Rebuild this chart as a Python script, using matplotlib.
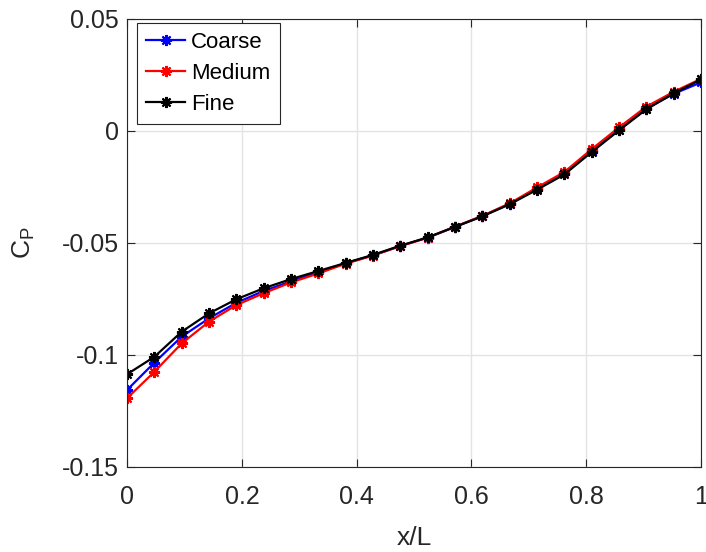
import matplotlib
matplotlib.use('Agg')
import matplotlib.pyplot as plt

plt.rcParams['font.family'] = ['Liberation Sans', 'DejaVu Sans']
plt.rcParams['mathtext.default'] = 'regular'

x_over_L = [0.0, 0.0476, 0.0952, 0.1429, 0.1905, 0.2381, 0.2857, 0.3333, 0.3810, 0.4286, 0.4762,
            0.5238, 0.5714, 0.6190, 0.6667, 0.7143, 0.7619, 0.8095, 0.8571, 0.9048, 0.9524, 1.0]

cp_coarse = [-0.1156, -0.1034, -0.0918, -0.0836, -0.0767, -0.0714, -0.0671, -0.0631, -0.0590, -0.0555, -0.0513,
             -0.0476, -0.0428, -0.0380, -0.0325, -0.0258, -0.0189, -0.0088, 0.0005, 0.0100, 0.0166, 0.0217]
cp_medium = [-0.1193, -0.1075, -0.0948, -0.0851, -0.0777, -0.0724, -0.0676, -0.0636, -0.0592, -0.0556, -0.0514,
             -0.0476, -0.0427, -0.0379, -0.0323, -0.0252, -0.0183, -0.0081, 0.0016, 0.0109, 0.0175, 0.0233]
cp_fine = [-0.1086, -0.1008, -0.0896, -0.0814, -0.0751, -0.0702, -0.0661, -0.0625, -0.0589, -0.0553, -0.0512,
           -0.0475, -0.0428, -0.0381, -0.0327, -0.0262, -0.0194, -0.0094, 0.0003, 0.0097, 0.0168, 0.0230]

dark = '#262626'
fig = plt.figure(figsize=(7.06, 5.52), dpi=100)
ax = fig.add_axes([0.180, 0.154, 0.813, 0.8116])

star = (8, 2, 0)
ax.plot(x_over_L, cp_coarse, color='blue', lw=1.6, marker=star, ms=8, mew=1.5, label='Coarse')
ax.plot(x_over_L, cp_medium, color='red', lw=1.6, marker=star, ms=8, mew=1.5, label='Medium')
ax.plot(x_over_L, cp_fine, color='black', lw=1.6, marker=star, ms=8, mew=1.5, label='Fine')

ax.set_xlim(0, 1)
ax.set_ylim(-0.15, 0.05)
ax.set_xticks([0, 0.2, 0.4, 0.6, 0.8, 1])
ax.set_xticklabels(['0', '0.2', '0.4', '0.6', '0.8', '1'])
ax.set_yticks([-0.15, -0.1, -0.05, 0, 0.05])
ax.set_yticklabels(['-0.15', '-0.1', '-0.05', '0', '0.05'])
ax.grid(True, color='#e3e3e3', lw=1)
ax.set_axisbelow(True)
ax.tick_params(direction='in', length=6, top=True, right=True, labelsize=18, colors=dark)
ax.tick_params(axis='x', pad=13)
ax.tick_params(axis='y', pad=6)
for s in ax.spines.values():
    s.set_color(dark)
ax.set_xlabel('x/L', fontsize=19, color=dark, labelpad=12)
ax.set_ylabel('C$_P$', fontsize=19, color=dark, labelpad=18)

leg = ax.legend(loc='upper left', bbox_to_anchor=(0.0174, 0.992), borderaxespad=0, fontsize=16,
                fancybox=False, edgecolor=dark, framealpha=1,
                handlelength=1.75, handletextpad=0.26, labelspacing=0.45, borderpad=0.42)
leg.get_frame().set_linewidth(0.8)

plt.savefig('out.png', dpi=100)
